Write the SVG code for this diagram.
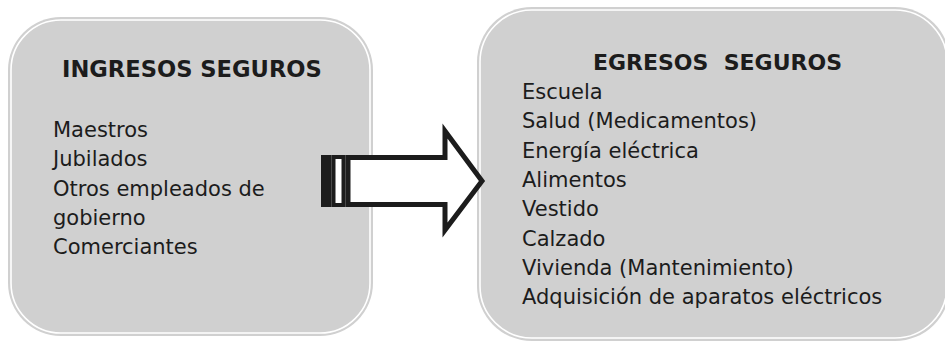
<svg xmlns="http://www.w3.org/2000/svg" width="945" height="341" viewBox="0 0 945 341">
<style>
.box{fill:#d0d0d0;stroke:none}
.ring{fill:none;stroke:#ffffff;stroke-width:1.6}
.t{font-family:"DejaVu Sans",Verdana,sans-serif;font-size:21px;fill:#1c1c1c}
.h{font-family:"DejaVu Sans",Verdana,sans-serif;font-size:22px;font-weight:bold;fill:#1c1c1c;white-space:pre}
.ar{fill:#ffffff;stroke:#1c1c1c;stroke-width:5;stroke-linejoin:miter}
</style>
<rect width="945" height="341" fill="#ffffff"/>
<g id="ingresos">
<rect class="box" x="8" y="17" width="365" height="319" rx="53" ry="53"/>
<rect class="ring" x="11" y="20" width="359" height="313" rx="50" ry="50"/>
<text class="h" x="62" y="77" style="font-size:22.6px">INGRESOS SEGUROS</text>
<text class="t" x="53" y="137">Maestros</text>
<text class="t" x="53" y="166.3">Jubilados</text>
<text class="t" x="53" y="195.5">Otros empleados de</text>
<text class="t" x="53" y="224.8">gobierno</text>
<text class="t" x="53" y="254">Comerciantes</text>
</g>
<g id="egresos">
<rect class="box" x="477" y="7" width="473" height="334" rx="55" ry="55"/>
<rect class="ring" x="480" y="10" width="467" height="328" rx="52" ry="52"/>
<text class="h" x="717.5" y="70" text-anchor="middle">EGRESOS  SEGUROS</text>
<text class="t" x="522" y="99">Escuela</text>
<text class="t" x="522" y="128.3">Salud (Medicamentos)</text>
<text class="t" x="522" y="157.6">Energía eléctrica</text>
<text class="t" x="522" y="186.9">Alimentos</text>
<text class="t" x="522" y="216.2">Vestido</text>
<text class="t" x="522" y="245.5">Calzado</text>
<text class="t" x="522" y="274.8">Vivienda (Mantenimiento)</text>
<text class="t" x="522" y="304">Adquisición de aparatos eléctricos</text>
</g>
<g id="connectors">
<path class="ar" d="M348,157.5 H445 V131 L482,181 L445,230 V204.5 H348 Z"/>
<rect x="321" y="155" width="10.5" height="52" fill="#1c1c1c"/>
<rect x="333.5" y="157" width="10" height="48" fill="#ffffff" stroke="#1c1c1c" stroke-width="4"/>
</g>
</svg>
